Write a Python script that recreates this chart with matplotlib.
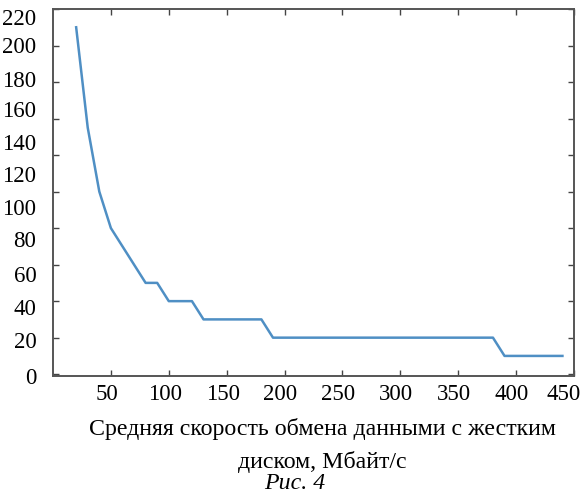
import numpy as np
import matplotlib.pyplot as plt
from matplotlib.transforms import ScaledTranslation

plt.rcParams['font.family'] = ['Liberation Serif', 'DejaVu Serif']

# средняя скорость обмена, Мбайт/с
speed = [20, 30, 40, 50, 60, 70, 80, 90, 100, 110, 120, 130, 140, 150, 160, 170, 180,
         190, 200, 210, 220, 230, 240, 250, 260, 270, 280, 290, 300, 310, 320, 330,
         340, 350, 360, 370, 380, 390, 400, 410, 420, 430, 440]
value = [190, 135, 100, 80, 70, 60, 50, 50, 40, 40, 40, 30, 30, 30, 30, 30, 30,
         20, 20, 20, 20, 20, 20, 20, 20, 20, 20, 20, 20, 20, 20, 20,
         20, 20, 20, 20, 20, 10, 10, 10, 10, 10, 10]

x_ticks = [50, 100, 150, 200, 250, 300, 350, 400, 450]
y_marks = np.arange(0, 201, 20)
# labels as printed (they do not sit on the tick marks in the scan)
y_labels = ['0', '20', '40', '60', '80', '100', '120', '140', '160', '180', '200', '220']
y_label_at = [-1, 18.5, 37, 55, 74, 91.5, 109.5, 127, 145, 161.5, 180.5, 195.5]

fig = plt.figure(figsize=(5.85, 4.95), dpi=100)
ax = fig.add_axes([0.0906, 0.2404, 0.8906, 0.7414])

ax.plot(speed, value, color='#4f8fc4', lw=1.8)

ax.set_xlim(0, 450)
ax.set_ylim(0, 200)
ax.set_xticks(x_ticks)
ax.set_xticklabels([str(t) for t in x_ticks])
ax.set_yticks(y_label_at)
ax.set_yticklabels(y_labels)
ax.set_yticks(y_marks, minor=True)

ax.tick_params(axis='x', which='major', direction='in', length=4, width=1,
               color='#444444', top=True, labelsize=16.5, pad=6)
ax.tick_params(axis='y', which='major', length=0, labelsize=16.5, pad=12)
ax.tick_params(axis='y', which='minor', direction='in', length=4, width=1,
               color='#444444', right=True)
for s in ax.spines.values():
    s.set_color('#555555')
    s.set_linewidth(1.4)

# x labels in the scan sit a little left of their ticks
for lab in ax.get_xticklabels():
    dx = -10 if lab.get_text() == '450' else -4
    lab.set_transform(lab.get_transform() + ScaledTranslation(dx / 100, 0, fig.dpi_scale_trans))

ax.set_xlabel('Средняя скорость обмена данными с жестким\nдиском, Мбайт/с',
              fontsize=17.2, labelpad=9, linespacing=1.65, x=0.517)
fig.text(0.503, 0.024, 'Рис. 4', fontsize=17.2, style='italic', ha='center', va='center')

fig.savefig('out.png', dpi=100)
